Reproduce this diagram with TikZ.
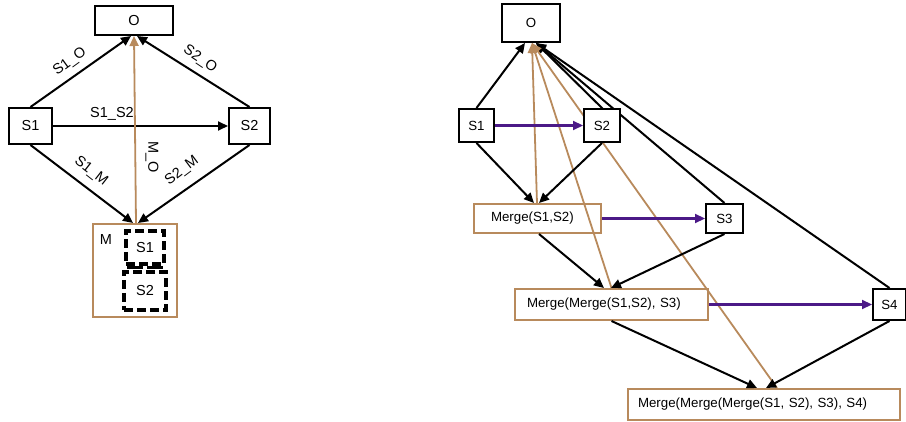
\documentclass[tikz,border=0pt]{standalone}
\usepackage{fontspec}
\setmainfont{Liberation Sans}
\usetikzlibrary{arrows.meta}
\definecolor{tanc}{RGB}{184,138,92}
\definecolor{purp}{RGB}{75,25,135}
\begin{document}
\begin{tikzpicture}[x=1pt,y=-1pt,
  lbox/.style={draw, line width=2pt, fill=white, inner sep=0pt, font=\fontsize{14.5}{16}\selectfont},
  rbox/.style={draw, line width=2pt, fill=white, inner sep=0pt, font=\fontsize{13.3}{15}\selectfont},
  mbox/.style={draw=tanc, line width=2pt, fill=white, inner ysep=0pt, align=left, font=\fontsize{13.3}{15}\selectfont},
  dbox/.style={draw, line width=3.4pt, dash pattern=on 9pt off 4pt, inner sep=0pt, font=\fontsize{14.5}{16}\selectfont},
  lbl/.style={inner sep=0pt, font=\fontsize{14.5}{16}\selectfont},
  arr/.style={line width=2pt, -{Triangle[length=10pt,width=9pt]}},
  tarr/.style={draw=tanc, line width=1.8pt, -{Triangle[length=10pt,width=9pt]}, tanc},
  parr/.style={draw=purp, line width=2.2pt, -{Triangle[length=10pt,width=9pt]}, purp}
]
\useasboundingbox (0,0) rectangle (906,422);

% ---------- left diagram ----------
\node[lbox, minimum width=78pt, minimum height=29pt] (lO) at (134,20.5) {O};
\node[lbox, minimum width=43pt, minimum height=36pt] (lS1) at (30.5,126) {S1};
\node[lbox, minimum width=41pt, minimum height=36pt] (lS2) at (249.5,126) {S2};
\node[draw=tanc, line width=2pt, fill=white, minimum width=84pt, minimum height=93pt] (lM) at (135,270.5) {};
\node[lbl] (lMl) at (106,240) {M};
\node[dbox, minimum width=38pt, minimum height=33pt] (iS1) at (145,247.5) {S1};
\node[dbox, minimum width=42pt, minimum height=38pt] (iS2) at (145,291) {S2};
\coordinate (dl1) at (127,267.5);
\coordinate (dl2) at (165,267.5);
\draw[line width=3.2pt, dash pattern=on 16pt off 4pt] (dl1) -- (dl2);

\draw[arr] (lS1.north) -- ([xshift=-3pt]lO.south);
\draw[arr] (lS2.north) -- ([xshift=3pt]lO.south);
\draw[arr] (lS1.east) -- (lS2.west);
\draw[arr] (lS1.south) -- ([xshift=-2pt]lM.north);
\draw[arr] (lS2.south) -- ([xshift=3pt]lM.north);
\draw[tarr] ([xshift=1pt]lM.north) -- (lO.south);

\node[lbl, rotate=36] (tS1O) at (70,62) {S1\_O};
\node[lbl, rotate=-34] (tS2O) at (200,59) {S2\_O};
\node[lbl] (tS1S2) at (112,114) {S1\_S2};
\node[lbl, rotate=-90] (tMO) at (152,157) {M\_O};
\node[lbl, rotate=-38] (tS1M) at (91,171) {S1\_M};
\node[lbl, rotate=37] (tS2M) at (182,171) {S2\_M};

% ---------- right diagram ----------
\node[rbox, minimum width=58pt, minimum height=38pt] (rO) at (531,23) {O};
\node[rbox, minimum width=35pt, minimum height=33pt] (rS1) at (476.5,125.5) {S1};
\node[rbox, minimum width=37pt, minimum height=29pt] (rS3) at (724.5,218.5) {S3};
\node[rbox, minimum width=33pt, minimum height=31pt] (rS4) at (889.5,304.5) {S4};
\coordinate (rS2n) at (603,109);

% connectors from O (drawn before the merge boxes and S2, so they pass behind S2)
\draw[arr] (rS1.north) -- ([xshift=-6pt]rO.south);
\draw[arr] (rS2n) -- ([xshift=5pt]rO.south);
\draw[arr] (rS3.north) -- ([xshift=5pt]rO.south);
\draw[arr] (rS4.north) -- ([xshift=5pt]rO.south);

\node[mbox, inner xsep=17pt, text width=93pt, minimum height=29pt] (M1) at (537.5,218.5) {Merge(S1,S2)};
\node[mbox, inner xsep=12pt, text width=169pt, minimum height=31pt] (M2) at (611.5,304.5) {Merge(Merge(S1,S2), S3)};
\node[mbox, inner xsep=10pt, text width=252pt, minimum height=31pt] (M3) at (764,404.5) {Merge(Merge(Merge(S1, S2), S3), S4)};

\draw[tarr] (M2.north) -- ([xshift=1pt]rO.south);
\draw[tarr] ([xshift=150pt]M3.west |- M3.north) -- ([xshift=1pt]rO.south);
\node[rbox, minimum width=36pt, minimum height=33pt] (rS2) at (602,125.5) {S2};
\draw[tarr] ([xshift=64pt]M1.west |- M1.north) -- ([xshift=1pt]rO.south);

\draw[parr] (rS1.east) -- (rS2.west);
\draw[parr] (M1.east) -- (rS3.west);
\draw[parr] (M2.east) -- (rS4.west);

\draw[arr] (rS1.south) -- ([xshift=61pt]M1.west |- M1.north);
\draw[arr] (rS2.south) -- ([xshift=66pt]M1.west |- M1.north);
\draw[arr] ([xshift=66pt]M1.west |- M1.south) -- ([xshift=90pt]M2.west |- M2.north);
\draw[arr] (rS3.south) -- ([xshift=97pt]M2.west |- M2.north);
\draw[arr] (M2.south) -- ([xshift=130pt]M3.west |- M3.north);
\draw[arr] (rS4.south) -- ([xshift=139pt]M3.west |- M3.north);
\end{tikzpicture}
\end{document}
